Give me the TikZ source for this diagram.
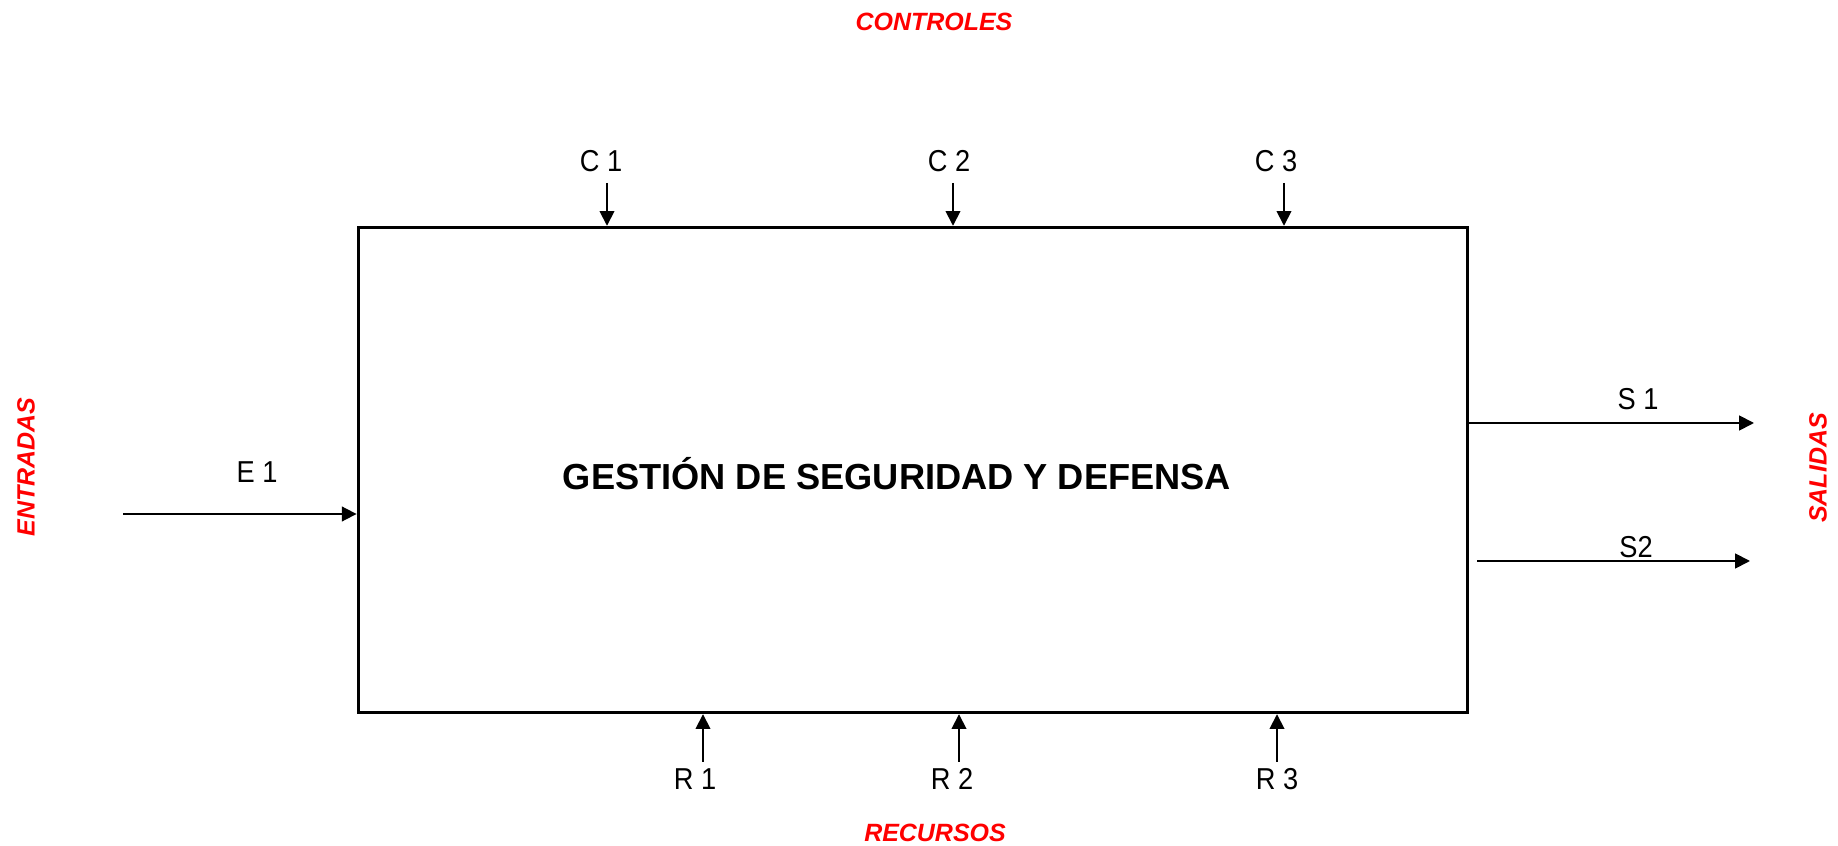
\documentclass[tikz,border=0pt]{standalone}
\usepackage{fontspec}
\setmainfont{Liberation Sans}
\newfontfamily\narrowsans[FakeStretch=0.9]{Liberation Sans}
\usetikzlibrary{arrows.meta,positioning}

\begin{document}
\begin{tikzpicture}[
      x=0.01cm, y=-0.01cm,
      proc/.style={draw, line width=0.9pt, minimum width=11.09cm, minimum height=4.85cm, inner sep=0pt},
      arrow/.style={-{Triangle[length=4.2pt,width=4.2pt]}, line width=0.5pt},
      lbl/.style={font=\narrowsans\fontsize{8.6}{10}\selectfont, inner sep=1pt},
      side/.style={font=\fontsize{7.1}{9}\selectfont\bfseries\itshape, text=red, inner sep=0pt},
      title/.style={font=\fontsize{10.3}{12}\selectfont\bfseries, inner sep=0pt}
    ]
      \useasboundingbox (0,0) rectangle (1838,846);
      \node[proc] (gestion) at (913,470) {};
      \node[title] (titulo) at (897,474) {GESTIÓN DE SEGURIDAD Y DEFENSA};

      % controles
      \node[side] (controles) at (934,22) {CONTROLES};
      \coordinate (c1) at (607,183);
      \coordinate (c2) at (953,183);
      \coordinate (c3) at (1284,183);
      \node[lbl] (lc1) at (601,161) {C 1};
      \node[lbl] (lc2) at (949,161) {C 2};
      \node[lbl] (lc3) at (1276,161) {C 3};
      \draw[arrow] (c1) -- (c1 |- gestion.north);
      \draw[arrow] (c2) -- (c2 |- gestion.north);
      \draw[arrow] (c3) -- (c3 |- gestion.north);

      % recursos
      \node[side] (recursos) at (935,833) {RECURSOS};
      \coordinate (r1) at (703,762);
      \coordinate (r2) at (959,762);
      \coordinate (r3) at (1277,762);
      \node[lbl] (lr1) at (695,779) {R 1};
      \node[lbl] (lr2) at (952,779) {R 2};
      \node[lbl] (lr3) at (1277,779) {R 3};
      \draw[arrow] (r1) -- (r1 |- gestion.south);
      \draw[arrow] (r2) -- (r2 |- gestion.south);
      \draw[arrow] (r3) -- (r3 |- gestion.south);

      % entradas
      \node[side, rotate=90] (entradas) at (26,467) {ENTRADAS};
      \coordinate (e1) at (123,514);
      \node[lbl] (le1) at (257,472) {E 1};
      \draw[arrow] (e1) -- (e1 -| gestion.west);

      % salidas
      \node[side, rotate=90] (salidas) at (1818,468) {SALIDAS};
      \coordinate (s1) at (1754,423);
      \coordinate (s2a) at (1477,561);
      \coordinate (s2) at (1750,561);
      \node[lbl] (ls1) at (1638,399) {S 1};
      \node[lbl] (ls2) at (1636,547) {S2};
      \draw[arrow] (s1 -| gestion.east) -- (s1);
      \draw[arrow] (s2a) -- (s2);
    \end{tikzpicture}
\end{document}
